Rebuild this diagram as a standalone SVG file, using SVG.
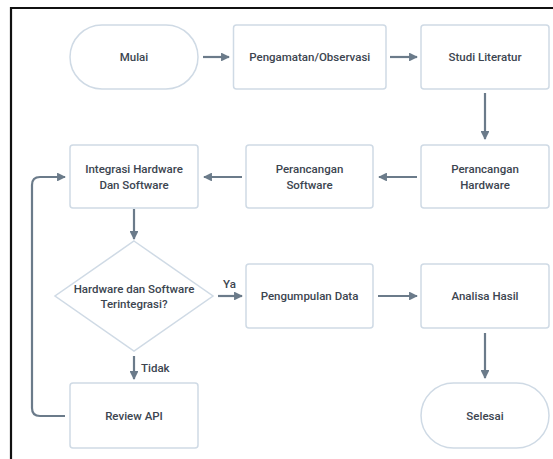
<svg xmlns="http://www.w3.org/2000/svg" width="553" height="459" viewBox="0 0 553 459">
  <defs>
    <marker id="arrow" viewBox="0 0 10 10" refX="9" refY="5" markerWidth="4" markerHeight="4" orient="auto" markerUnits="strokeWidth">
      <path d="M0,0 L10,5 L0,10 Z" fill="#6b7b8a"/>
    </marker>
    <style>
      .shape { fill: #ffffff; stroke: #cfdae5; stroke-width: 1.5; }
      .label { font-family: Roboto, "Noto Sans", sans-serif; font-size: 11.5px; font-weight: 500; fill: #3c4550; text-anchor: middle; dominant-baseline: central; }
      .edge { fill: none; stroke: #6b7b8a; stroke-width: 2.2; marker-end: url(#arrow); }
      .edge-label { font-family: Roboto, "Noto Sans", sans-serif; font-size: 11.5px; font-weight: 500; fill: #3c4550; dominant-baseline: central; }
    </style>
  </defs>

  <rect x="0" y="0" width="553" height="459" fill="#ffffff"/>
  <!-- page frame: top and left rules -->
  <path d="M11,459 V8 H553" fill="none" stroke="#111111" stroke-width="2.2"/>

  <g id="mulai">
    <rect class="shape" x="70" y="25" width="128" height="64" rx="32"/>
    <text class="label" x="134" y="57">Mulai</text>
  </g>
  <g id="pengamatan">
    <rect class="shape" x="233.5" y="25" width="152.5" height="64" rx="3"/>
    <text class="label" x="309.75" y="57">Pengamatan/Observasi</text>
  </g>
  <g id="studi-literatur">
    <rect class="shape" x="421" y="25" width="128" height="64" rx="3"/>
    <text class="label" x="485" y="57">Studi Literatur</text>
  </g>
  <g id="perancangan-hardware">
    <rect class="shape" x="421" y="145" width="128" height="63" rx="3"/>
    <text class="label" x="485" y="169">Perancangan</text>
    <text class="label" x="485" y="185">Hardware</text>
  </g>
  <g id="perancangan-software">
    <rect class="shape" x="246" y="145" width="127" height="63" rx="3"/>
    <text class="label" x="309.5" y="169">Perancangan</text>
    <text class="label" x="309.5" y="185">Software</text>
  </g>
  <g id="integrasi">
    <rect class="shape" x="70" y="145" width="128" height="63" rx="3"/>
    <text class="label" x="134" y="169">Integrasi Hardware</text>
    <text class="label" x="134" y="185">Dan Software</text>
  </g>
  <g id="keputusan">
    <polygon class="shape" points="134,241 213,296 134,351 55,296"/>
    <text class="label" x="134" y="289">Hardware dan Software</text>
    <text class="label" x="134" y="304">Terintegrasi?</text>
  </g>
  <g id="pengumpulan-data">
    <rect class="shape" x="246" y="264" width="127" height="64" rx="3"/>
    <text class="label" x="309.5" y="296">Pengumpulan Data</text>
  </g>
  <g id="analisa-hasil">
    <rect class="shape" x="421" y="264" width="128" height="64" rx="3"/>
    <text class="label" x="485" y="296">Analisa Hasil</text>
  </g>
  <g id="review-api">
    <rect class="shape" x="70" y="383" width="128" height="65" rx="3"/>
    <text class="label" x="134" y="416">Review API</text>
  </g>
  <g id="selesai">
    <rect class="shape" x="421" y="383" width="128" height="65" rx="32.5"/>
    <text class="label" x="485" y="416">Selesai</text>
  </g>

  <g id="connectors">
    <path class="edge" d="M203,57 H229"/>
    <path class="edge" d="M390,57 H417"/>
    <path class="edge" d="M485,93 V139"/>
    <path class="edge" d="M417,177 H379"/>
    <path class="edge" d="M242,177 H204"/>
    <path class="edge" d="M134,209 V239"/>
    <path class="edge" d="M218,296 H242"/>
    <path class="edge" d="M378,296 H417"/>
    <path class="edge" d="M485,333 V378"/>
    <path class="edge" d="M134,356 V379"/>
    <path class="edge" d="M65,416 H40 Q32,416 32,408 V185 Q32,177 40,177 H65"/>
    <text class="edge-label" x="223" y="284">Ya</text>
    <text class="edge-label" x="141" y="368">Tidak</text>
  </g>
</svg>
